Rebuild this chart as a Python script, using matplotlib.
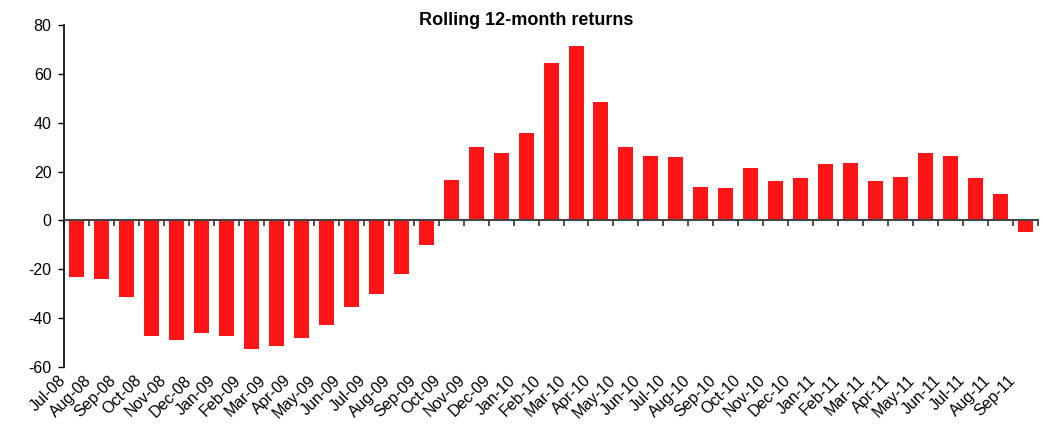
import numpy as np
import matplotlib.pyplot as plt

plt.rcParams['font.family'] = ['Liberation Sans', 'DejaVu Sans']
plt.rcParams['axes.unicode_minus'] = False

# Data
months = ['Jul-08', 'Aug-08', 'Sep-08', 'Oct-08', 'Nov-08', 'Dec-08',
          'Jan-09', 'Feb-09', 'Mar-09', 'Apr-09', 'May-09', 'Jun-09',
          'Jul-09', 'Aug-09', 'Sep-09', 'Oct-09', 'Nov-09', 'Dec-09',
          'Jan-10', 'Feb-10', 'Mar-10', 'Apr-10', 'May-10', 'Jun-10',
          'Jul-10', 'Aug-10', 'Sep-10', 'Oct-10', 'Nov-10', 'Dec-10',
          'Jan-11', 'Feb-11', 'Mar-11', 'Apr-11', 'May-11', 'Jun-11',
          'Jul-11', 'Aug-11', 'Sep-11']
returns = [-23, -24, -31.5, -47.5, -49, -46.2, -47.1, -52.8, -51.2, -48.3, -43, -35.6,
           -30, -22, -10.2, 16.6, 30.1, 27.7, 35.9, 64.5, 71.5, 48.6, 30.1, 26.5,
           26.1, 13.8, 13.4, 21.6, 16.2, 17.5, 23.2, 23.6, 16.2, 17.9, 27.7, 26.5,
           17.5, 10.9, -4.6]
y_ticks = [-60, -40, -20, 0, 20, 40, 60, 80]

fig = plt.figure(figsize=(10.46, 4.24), dpi=100)
ax = fig.add_axes([0.0612, 0.1344, 0.9312, 0.8066])

x = np.arange(len(months))
ax.bar(x, returns, width=0.6, color='#ff1515', zorder=2)

ax.set_xlim(-0.5, len(months) - 0.5)
ax.set_ylim(-60, 80)
ax.set_yticks(y_ticks)
ax.tick_params(axis='y', direction='out', length=4, width=1, labelsize=11.5, pad=5)

# x axis drawn at zero with ticks between categories
ax.spines['top'].set_visible(False)
ax.spines['right'].set_visible(False)
ax.spines['bottom'].set_position(('data', 0))
ax.spines['bottom'].set_color('#444444')
ax.spines['bottom'].set_linewidth(1.5)
ax.spines['bottom'].set_zorder(3)
ax.spines['left'].set_linewidth(1.2)
ax.set_xticks(np.arange(len(months) + 1) - 0.5)
ax.tick_params(axis='x', direction='out', length=4, width=1.2, color='#333333', labelbottom=False)

# category labels at the bottom of the plot area
sec = ax.secondary_xaxis(0.0)
sec.set_xticks(x - 0.3, months, rotation=45, ha='right', fontsize=11.5)
sec.tick_params(length=0, pad=4)
sec.spines['bottom'].set_visible(False)

fig.text(0.503, 0.952, 'Rolling 12-month returns', fontsize=13, fontweight='bold',
         ha='center', va='center')

fig.savefig('out.png', dpi=100)
